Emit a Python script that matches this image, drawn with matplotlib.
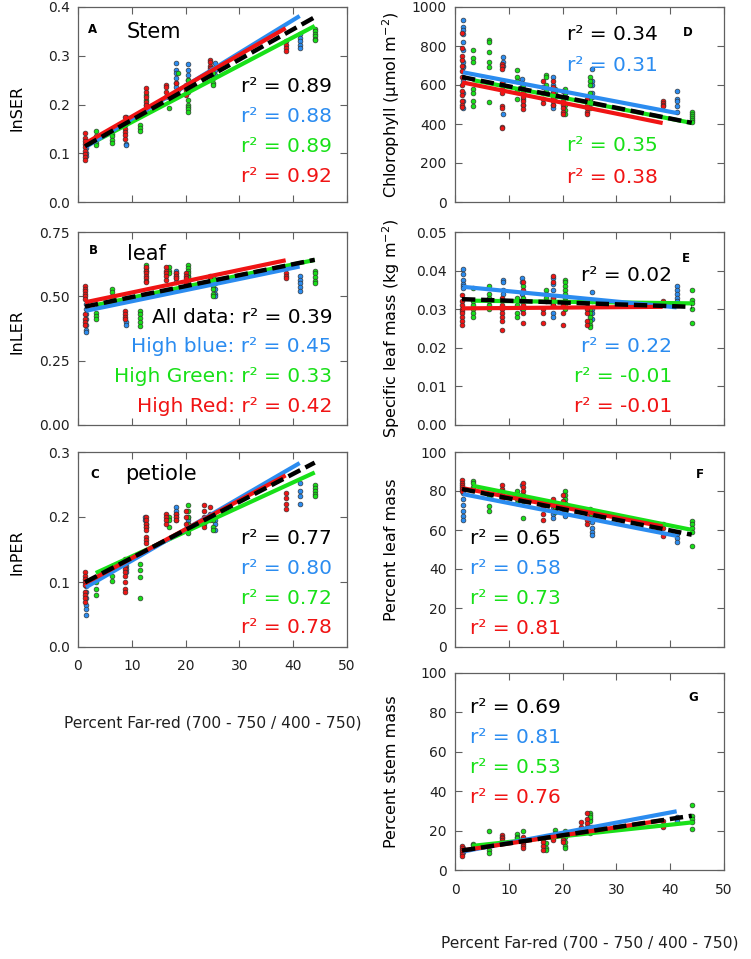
import numpy as np
import matplotlib
matplotlib.use('Agg')
import matplotlib.pyplot as plt
from matplotlib.ticker import FormatStrFormatter

# ---------------- data ----------------
# treatment x positions (percent far-red) for each light colour
X_BLUE = [1.5, 9.0, 12.5, 18.3, 20.4, 25.4, 41.2]
X_GREEN = [3.3, 6.4, 11.6, 12.7, 16.9, 18.6, 20.5, 25.1, 44.0]
X_RED = [1.3, 8.8, 12.7, 16.4, 18.3, 20.1, 23.5, 24.6, 38.6]

# Panel A: lnSER
A_BLUE = [[0.125, 0.118, 0.110, 0.100, 0.095], [0.175, 0.120, 0.117], [],
          [0.285, 0.270, 0.265, 0.255, 0.245, 0.235], [0.283, 0.270, 0.260, 0.250],
          [0.285, 0.275, 0.270, 0.260], [0.345, 0.337, 0.330, 0.322, 0.315]]
A_GREEN = [[0.145, 0.135, 0.128, 0.122, 0.117], [0.147, 0.140, 0.135, 0.128, 0.122],
           [0.158, 0.152, 0.145], [0.220, 0.210, 0.200], [0.192], [0.265, 0.230, 0.220],
           [0.250, 0.225, 0.210, 0.200, 0.195, 0.190, 0.185],
           [0.275, 0.265, 0.255, 0.245, 0.240], [0.355, 0.350, 0.345, 0.340, 0.335, 0.332]]
A_RED = [[0.141, 0.132, 0.125, 0.118, 0.112, 0.105, 0.098, 0.092, 0.087],
         [0.175, 0.165, 0.158, 0.150, 0.143, 0.137, 0.130],
         [0.233, 0.225, 0.215, 0.205, 0.200, 0.190, 0.185], [0.240, 0.235, 0.225, 0.215],
         [0.245, 0.225], [0.240, 0.235, 0.230, 0.220], [],
         [0.292, 0.287, 0.280, 0.275, 0.270, 0.265], [0.330, 0.322, 0.315, 0.310]]

# Panel B: lnLER
B_BLUE = [[0.47, 0.45, 0.43, 0.41, 0.39, 0.37, 0.36], [0.40, 0.39], [],
          [0.60, 0.59, 0.58, 0.57, 0.555], [0.58, 0.565], [0.55, 0.53, 0.51, 0.50],
          [0.58, 0.565, 0.55, 0.535, 0.52]]
B_GREEN = [[0.437, 0.425, 0.41], [0.528, 0.515, 0.50, 0.49], [0.444, 0.43, 0.415, 0.40, 0.385],
           [0.62, 0.61, 0.60], [0.615, 0.60, 0.59], [], [0.62, 0.61, 0.60, 0.59, 0.575, 0.56],
           [0.575, 0.56, 0.55, 0.54, 0.53, 0.51, 0.50], [0.60, 0.59, 0.575, 0.56, 0.55]]
B_RED = [[0.54, 0.53, 0.52, 0.51, 0.50, 0.49, 0.43, 0.41, 0.40, 0.39], [0.444, 0.43, 0.42, 0.41],
         [0.613, 0.60, 0.59, 0.58, 0.57, 0.56, 0.555], [0.613, 0.60, 0.59, 0.58, 0.565],
         [0.59, 0.58, 0.57], [0.59, 0.58, 0.57, 0.55], [], [0.58, 0.575], [0.59, 0.58, 0.57]]

# Panel C: lnPER
C_BLUE = [[0.094, 0.085, 0.075, 0.065, 0.058, 0.050], [0.125, 0.120, 0.115], [0.200, 0.195],
          [0.215, 0.210, 0.205, 0.200, 0.195], [0.200, 0.195, 0.190], [0.195, 0.190, 0.180],
          [0.252, 0.240, 0.232, 0.220]]
C_GREEN = [[0.105, 0.100, 0.090, 0.080], [0.125, 0.120, 0.110, 0.102], [0.128, 0.118, 0.108, 0.075],
           [0.190, 0.185], [0.200, 0.195, 0.185], [], [0.218, 0.210, 0.200, 0.190, 0.180, 0.175],
           [0.200, 0.195, 0.185, 0.180], [0.250, 0.245, 0.240, 0.235, 0.232]]
C_RED = [[0.115, 0.110, 0.105, 0.100, 0.095, 0.085, 0.080, 0.075, 0.070],
         [0.135, 0.125, 0.120, 0.115, 0.110, 0.100, 0.090, 0.085],
         [0.200, 0.195, 0.190, 0.185, 0.180, 0.170, 0.165, 0.160], [0.205, 0.200, 0.195, 0.190],
         [0.205, 0.200, 0.195], [0.210, 0.200, 0.190], [0.218, 0.210, 0.200, 0.190, 0.185],
         [0.215, 0.205, 0.195], [0.237, 0.230, 0.220, 0.212]]

# Panel D: chlorophyll
D_BLUE = [[935, 900, 880, 860, 820, 780, 720, 700, 690, 640, 620, 560, 520, 480],
          [745, 720, 700, 620, 450], [630, 610, 590], [640, 600, 570, 550, 530, 500, 480],
          [560, 540], [680, 620, 600, 560, 540, 510], [570, 530, 520, 490, 460]]
D_GREEN = [[780, 740, 720, 580, 560, 520, 490], [830, 820, 770, 720, 690, 515],
           [675, 640, 620, 570, 530], [600, 560, 530, 500], [650, 640, 600, 570], [580, 560, 540],
           [580, 560, 500, 470, 450], [640, 620, 600, 560, 530, 510, 480], [460, 450, 440, 430, 420, 410]]
D_RED = [[867, 790, 750, 730, 700, 670, 640, 600, 570, 550, 520, 500, 485],
         [710, 700, 680, 610, 580, 560, 490, 480, 385, 380], [580, 560, 540, 520, 500, 475],
         [620, 590, 560, 530, 510], [620, 590, 560, 540, 520, 500], [570, 540, 520, 500, 480, 460, 450],
         [], [530, 500, 480, 460, 450], [520, 510, 500, 490]]

# Panel E: specific leaf mass
E_BLUE = [[0.0403, 0.039, 0.0375, 0.0365, 0.036, 0.0355], [0.0375, 0.037, 0.035, 0.034],
          [0.038, 0.037, 0.034, 0.032, 0.030], [0.038, 0.0365, 0.035, 0.033, 0.031, 0.029, 0.028],
          [], [0.0345, 0.032, 0.030, 0.029, 0.0275], [0.036, 0.035, 0.034, 0.033, 0.032, 0.031]]
E_GREEN = [[0.0355, 0.032, 0.031, 0.030, 0.029, 0.028], [0.036, 0.034, 0.033, 0.032, 0.031, 0.030],
           [0.033, 0.031, 0.029, 0.028], [0.036, 0.033, 0.030], [0.035, 0.034, 0.033, 0.032], [],
           [0.0375, 0.037, 0.036, 0.035, 0.034, 0.033, 0.032, 0.031, 0.030],
           [0.030, 0.029, 0.028, 0.027, 0.026, 0.0255], [0.035, 0.0325, 0.0315, 0.030, 0.0265]]
E_RED = [[0.0338, 0.032, 0.031, 0.030, 0.0295, 0.029, 0.028, 0.027, 0.026],
         [0.033, 0.031, 0.030, 0.029, 0.028, 0.027, 0.0245], [0.037, 0.035, 0.031, 0.029, 0.0265],
         [0.030, 0.029, 0.0265], [0.0385, 0.037, 0.033, 0.031], [0.031, 0.029, 0.026], [],
         [0.0305, 0.030, 0.029, 0.027, 0.026], [0.032, 0.0315]]

# Panel F: percent leaf mass
F_BLUE = [[79, 76, 73, 70, 67, 65], [], [83, 78, 76], [74, 72, 70, 68, 66], [70, 68, 67],
          [68, 64, 61, 59, 57.5], [58, 56, 54]]
F_GREEN = [[85, 84, 82, 81], [77, 72.5, 69.5], [80, 78, 76, 74], [75, 66], [], [74, 71, 69],
           [80, 78, 76, 74, 72, 70], [71, 70, 68, 66], [64.5, 63, 61, 59, 52]]
F_RED = [[85.8, 84, 83, 82, 81, 80], [83, 81, 80, 78, 76], [84, 82, 80, 78, 76], [74, 72, 68, 65],
         [76, 73, 70], [78, 75, 73, 71], [], [69, 67, 65, 63], [63, 61, 57]]

# Panel G: percent stem mass
G_BLUE = [[11, 10, 9], [], [], [17, 16], [], [22, 21], [27, 25]]
G_GREEN = [[13.3, 12.5], [20, 10, 8.5], [18.5, 17, 16], [20, 16], [13.5, 11, 10], [20.5, 19, 18],
           [20, 17, 14, 12, 11], [29, 28, 26, 25, 19, 27, 22], [33, 27.5, 26, 24.5, 21]]
G_RED = [[12, 11, 10, 9, 8, 7], [18, 17, 16, 15, 14], [17, 15, 14, 13, 12, 11], [15.5, 14, 12, 10],
         [17, 16, 15], [18.5, 17, 15, 14], [24.5, 22, 21, 20], [29, 26, 24, 22, 21], [25, 23, 22]]

# regression lines, order: all data, blue, green, red
A_FIT_INT = [0.1063, 0.103, 0.1059, 0.1118]
A_FIT_SLOPE = [0.0062, 0.00676, 0.0058, 0.00634]
B_FIT_INT = [0.4545, 0.4375, 0.452, 0.471]
B_FIT_SLOPE = [0.00426, 0.00433, 0.0043, 0.00438]
C_FIT_INT = [0.094, 0.0848, 0.1013, 0.0922]
C_FIT_SLOPE = [0.00431, 0.00481, 0.0038, 0.00445]
D_FIT_INT = [648, 673, 643, 621]
D_FIT_SLOPE = [-5.5, -5.26, -5.4, -5.6]
E_FIT_INT = [0.03266, 0.0360, 0.03226, 0.0302]
E_FIT_SLOPE = [-4.66e-5, -1.34e-4, -1.7e-5, 1.07e-5]
F_FIT_INT = [81.7, 79.2, 84.5, 82.2]
F_FIT_SLOPE = [-0.548, -0.539, -0.555, -0.528]
G_FIT_INT = [9.36, 8.63, 11.3, 9.37]
G_FIT_SLOPE = [0.413, 0.514, 0.292, 0.41]

R2_A = ["0.89", "0.88", "0.89", "0.92"]
R2_B = ["0.39", "0.45", "0.33", "0.42"]
R2_C = ["0.77", "0.80", "0.72", "0.78"]
R2_D = ["0.34", "0.31", "0.35", "0.38"]
R2_E = ["0.02", "0.22", "-0.01", "-0.01"]
R2_F = ["0.65", "0.58", "0.73", "0.81"]
R2_G = ["0.69", "0.81", "0.53", "0.76"]
B_PREFIX = ["All data: ", "High blue: ", "High Green: ", "High Red: "]

XTICKS = [0, 10, 20, 30, 40, 50]
XLABEL = "Percent Far-red (700 - 750 / 400 - 750)"

# ---------------- style ----------------
BLUE = '#2b8cf0'
GREEN = '#18e018'
RED = '#f01414'
BLACK = '#000000'
SPINE = '#606060'
TEXT_COLORS = [BLACK, BLUE, GREEN, RED]

plt.rcParams['font.family'] = ['DejaVu Sans']
W, H = 751, 959
fig = plt.figure(figsize=(W / 100, H / 100), dpi=100)


def add_axes(x0, y0, x1, y1):
    return fig.add_axes([x0 / W, 1 - y1 / H, (x1 - x0) / W, (y1 - y0) / H])


def ftext(x, y, s, **kw):
    fig.text(x / W, 1 - y / H, s, **kw)


def draw_panel(ax, blue, green, red, fit_int, fit_slope, ylim, yticks, yfmt, show_x):
    for xs, groups, col in [(X_BLUE, blue, BLUE), (X_GREEN, green, GREEN), (X_RED, red, RED)]:
        px, py = [], []
        for x, ys in zip(xs, groups):
            px += [x] * len(ys)
            py += ys
        ax.scatter(px, py, s=12, c=col, edgecolors='#303030', linewidths=0.45, zorder=2)
    all_x = X_BLUE + X_GREEN + X_RED
    ranges = [(min(all_x), max(all_x)), (min(X_BLUE), max(X_BLUE)),
              (min(X_GREEN), max(X_GREEN)), (min(X_RED), max(X_RED))]
    for i in [2, 1, 3]:
        xx = np.array(ranges[i])
        ax.plot(xx, fit_int[i] + fit_slope[i] * xx, color=TEXT_COLORS[i], lw=3.0,
                solid_capstyle='butt', zorder=3)
    xx = np.array(ranges[0])
    ax.plot(xx, fit_int[0] + fit_slope[0] * xx, color=BLACK, lw=3.2,
            linestyle=(0, (3, 1.3)), zorder=4)
    ax.set_xlim(0, 50)
    ax.set_ylim(*ylim)
    ax.set_xticks(XTICKS)
    ax.set_yticks(yticks)
    ax.yaxis.set_major_formatter(FormatStrFormatter(yfmt))
    ax.tick_params(direction='in', top=True, right=True, length=5, width=0.8,
                   color=SPINE, labelsize=10, labelcolor='#202020')
    ax.tick_params(axis='y', pad=6)
    ax.tick_params(axis='x', pad=9)
    if not show_x:
        ax.set_xticklabels([])
    for sp in ax.spines.values():
        sp.set_color(SPINE)
        sp.set_linewidth(0.9)


LX0, LX1 = 78, 347
RX0, RX1 = 455, 724
ROWS = [(7, 202), (232, 425), (452, 647), (673, 870)]

axA = add_axes(LX0, ROWS[0][0], LX1, ROWS[0][1])
draw_panel(axA, A_BLUE, A_GREEN, A_RED, A_FIT_INT, A_FIT_SLOPE, (0, 0.4),
           [0, 0.1, 0.2, 0.3, 0.4], '%.1f', False)
axB = add_axes(LX0, ROWS[1][0], LX1, ROWS[1][1])
draw_panel(axB, B_BLUE, B_GREEN, B_RED, B_FIT_INT, B_FIT_SLOPE, (0, 0.75),
           [0, 0.25, 0.5, 0.75], '%.2f', False)
axC = add_axes(LX0, ROWS[2][0], LX1, ROWS[2][1])
draw_panel(axC, C_BLUE, C_GREEN, C_RED, C_FIT_INT, C_FIT_SLOPE, (0, 0.3),
           [0, 0.1, 0.2, 0.3], '%.1f', True)
axD = add_axes(RX0, ROWS[0][0], RX1, ROWS[0][1])
draw_panel(axD, D_BLUE, D_GREEN, D_RED, D_FIT_INT, D_FIT_SLOPE, (0, 1000),
           [0, 200, 400, 600, 800, 1000], '%d', False)
axE = add_axes(RX0, ROWS[1][0], RX1, ROWS[1][1])
draw_panel(axE, E_BLUE, E_GREEN, E_RED, E_FIT_INT, E_FIT_SLOPE, (0, 0.05),
           [0, 0.01, 0.02, 0.03, 0.04, 0.05], '%.2f', False)
axF = add_axes(RX0, ROWS[2][0], RX1, ROWS[2][1])
draw_panel(axF, F_BLUE, F_GREEN, F_RED, F_FIT_INT, F_FIT_SLOPE, (0, 100),
           [0, 20, 40, 60, 80, 100], '%d', False)
axG = add_axes(RX0, ROWS[3][0], RX1, ROWS[3][1])
draw_panel(axG, G_BLUE, G_GREEN, G_RED, G_FIT_INT, G_FIT_SLOPE, (0, 100),
           [0, 20, 40, 60, 80, 100], '%d', True)

# y labels
YL = 11.5
for txt, (y0, y1) in zip(["lnSER", "lnLER", "lnPER"], ROWS[:3]):
    ftext(17, (y0 + y1) / 2 + 3, txt, rotation=90, ha='center', va='center', fontsize=YL)
for txt, (y0, y1) in zip([r"Chlorophyll (µmol m$^{-2}$)", r"Specific leaf mass (kg m$^{-2}$)",
                          "Percent leaf mass", "Percent stem mass"], ROWS):
    ftext(391, (y0 + y1) / 2, txt, rotation=90, ha='center', va='center', fontsize=YL)

# x labels
ftext((LX0 + LX1) / 2, 727, XLABEL, ha='center', va='baseline', fontsize=11.2, color='#202020')
ftext((RX0 + RX1) / 2, 948, XLABEL, ha='center', va='baseline', fontsize=11.2, color='#202020')

# panel letters and titles
LET = dict(fontsize=8.5, fontweight='bold', ha='center', va='baseline')
ftext(93, 33, "A", **LET)
ftext(93, 254, "B", **LET)
ftext(95, 478, "C", **LET)
ftext(688, 36, "D", **LET)
ftext(686, 262, "E", **LET)
ftext(700, 478, "F", **LET)
ftext(693, 701, "G", **LET)
ftext(127, 38, "Stem", fontsize=15, ha='left', va='baseline')
ftext(127, 260, "leaf", fontsize=15, ha='left', va='baseline')
ftext(125, 480, "petiole", fontsize=15, ha='left', va='baseline')

R2S = 14.5
for i, yb in enumerate([92, 122, 152, 182]):
    ftext(332, yb, "r² = " + R2_A[i], color=TEXT_COLORS[i], fontsize=R2S, ha='right', va='baseline')
for i, yb in enumerate([323, 352.5, 382, 411.5]):
    ftext(332, yb, B_PREFIX[i] + "r² = " + R2_B[i], color=TEXT_COLORS[i], fontsize=R2S,
          ha='right', va='baseline')
for i, yb in enumerate([544, 574, 604, 633]):
    ftext(332, yb, "r² = " + R2_C[i], color=TEXT_COLORS[i], fontsize=R2S, ha='right', va='baseline')
for i, yb in enumerate([40, 70.7, 150.7, 182.7]):
    ftext(658, yb, "r² = " + R2_D[i], color=TEXT_COLORS[i], fontsize=R2S, ha='right', va='baseline')
for i, yb in enumerate([281, 351.7, 381.7, 411.7]):
    ftext(672, yb, "r² = " + R2_E[i], color=TEXT_COLORS[i], fontsize=R2S, ha='right', va='baseline')
for i, yb in enumerate([544, 574, 604, 634]):
    ftext(470, yb, "r² = " + R2_F[i], color=TEXT_COLORS[i], fontsize=R2S, ha='left', va='baseline')
for i, yb in enumerate([713, 743, 773, 803]):
    ftext(470, yb, "r² = " + R2_G[i], color=TEXT_COLORS[i], fontsize=R2S, ha='left', va='baseline')

fig.savefig('out.png', dpi=100)
